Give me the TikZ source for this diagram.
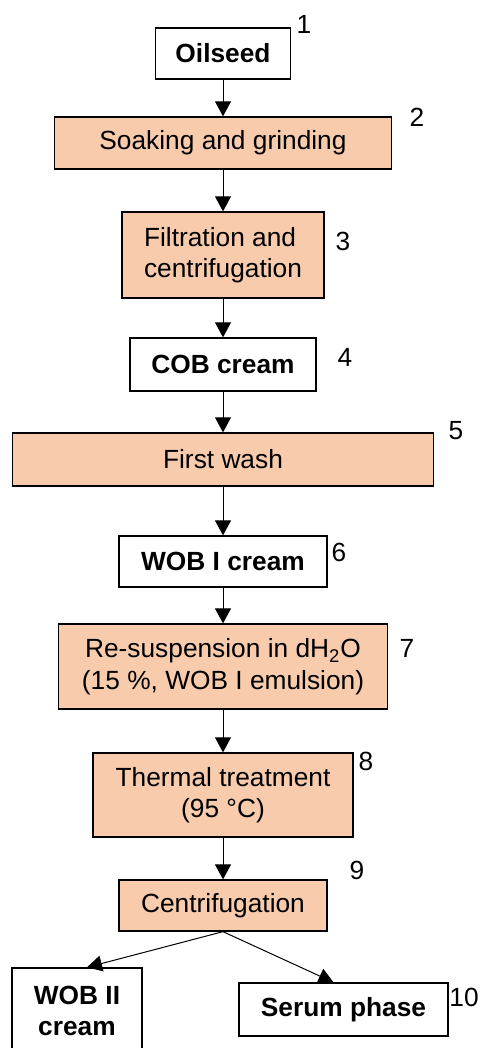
\documentclass[tikz,border=0pt]{standalone}
\usepackage{fontspec}
\setmainfont{Liberation Sans}
\usetikzlibrary{arrows.meta}
\definecolor{peach}{HTML}{F8CBAD}
\tikzset{
  base/.style={draw, line width=0.65pt, inner sep=0pt, align=center},
  product/.style={base, fill=white},
  process/.style={base, fill=peach},
  stepno/.style={inner sep=0pt},
  flow/.style={-{Triangle[width=8pt,length=7.5pt]}, line width=0.5pt},
}
\begin{document}
\begin{tikzpicture}[x=0.5pt,y=-0.5pt,
    every node/.append style={font=\fontsize{13.15}{15.8}\selectfont}]
  \useasboundingbox (0,0) rectangle (479,1048);
  \draw
    (223,53.5) node[product, minimum width=67.6pt, minimum height=25.5pt] (oil){\bfseries Oilseed}
    (223,143) node[process, minimum width=168.5pt, minimum height=26pt] (soak){Soaking and grinding}
    (223,255) node[process, minimum width=101pt, minimum height=43pt, align=left] (filt){Filtration and\\centrifugation}
    (223,364.5) node[product, minimum width=93pt, minimum height=26.5pt] (cob){\bfseries COB cream}
    (223,459.5) node[process, minimum width=210.5pt, minimum height=26.5pt] (wash){First wash}
    (223,561.5) node[product, minimum width=104pt, minimum height=25.5pt] (wobi){\bfseries WOB I cream}
    (223,666.5) node[process, minimum width=164.5pt, minimum height=42.5pt] (resus){Re-suspension in dH\textsubscript{2}O\\(15~\%, WOB I emulsion)}
    (223,795) node[process, minimum width=130pt, minimum height=42pt] (therm){Thermal treatment\\(95 °C)}
    (223,905.5) node[process, minimum width=104pt, minimum height=25.5pt] (cent){Centrifugation}
    (77,1011) node[product, minimum width=65pt, minimum height=43pt] (wobii){\bfseries WOB II\\\bfseries cream}
    (343.5,1009.5) node[product, minimum width=104.5pt, minimum height=26.5pt] (serum){\bfseries Serum phase};
  % step numbers
  \path
    (304,24) node[stepno] (n1){1}
    (417,117) node[stepno] (n2){2}
    (343,241) node[stepno] (n3){3}
    (345,357) node[stepno] (n4){4}
    (456,431) node[stepno] (n5){5}
    (339,552) node[stepno] (n6){6}
    (407,648) node[stepno] (n7){7}
    (366,761) node[stepno] (n8){8}
    (357,870) node[stepno] (n9){9}
    (464,997) node[stepno] (n10){10};
  \begin{scope}[flow]
    \draw (oil.south) to (soak.north);
    \draw (soak.south) to (filt.north);
    \draw (filt.south) to (cob.north);
    \draw (cob.south) to (wash.north);
    \draw (wash.south) to (wobi.north);
    \draw (wobi.south) to (resus.north);
    \draw (resus.south) to (therm.north);
    \draw (therm.south) to (cent.north);
    \draw (cent.south) to ([xshift=5pt]wobii.north);
    \draw (cent.south) to ([xshift=-5pt]serum.north);
  \end{scope}
\end{tikzpicture}
\end{document}
